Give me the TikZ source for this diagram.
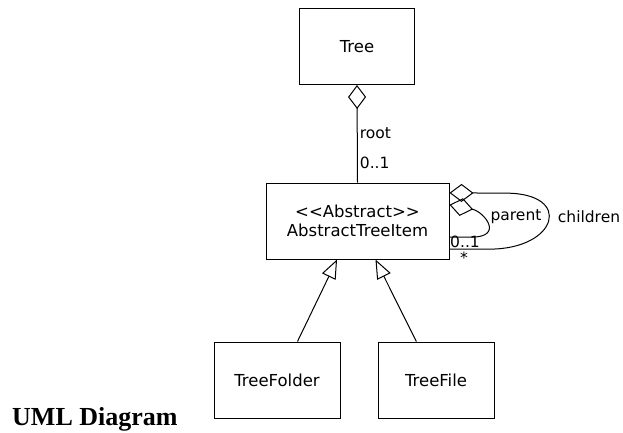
\documentclass[tikz,border=0pt]{standalone}
\usepackage{fontspec}
\usepackage{tikz}
\usetikzlibrary{arrows.meta}
\newfontfamily\umlfont{DejaVu Sans}
\newfontfamily\capfont{Liberation Serif}
\tikzset{
  cls/.style  = {draw, line width=1pt, minimum height=76pt, inner sep=0pt,
                 align=center, font=\umlfont\fontsize{16.5}{19}\selectfont},
  aggr/.style = {-{Diamond[open,length=24pt,width=18pt]}, line width=1pt},
  gen/.style  = {-{Triangle[open,length=19pt,width=15pt]}, line width=1pt},
  lbl/.style  = {inner sep=1pt, font=\umlfont\fontsize{15.5}{18}\selectfont},
}
\begin{document}
\begin{tikzpicture}[x=1pt,y=1pt]
  \useasboundingbox (0,0) rectangle (623,432);
  \node[cls, minimum width=115pt] (tree)   at (357,385.5) {Tree};
  \node[cls, minimum width=183pt] (item)   at (357.5,211)
       {{<}{<}Abstract{>}{>}\\AbstractTreeItem};
  \node[cls, minimum width=126pt] (folder) at (277,52)  {TreeFolder};
  \node[cls, minimum width=116pt] (file)   at (436,52)  {TreeFile};
  % aggregation to the tree
  \draw[aggr] (item.north) -- node[lbl,pos=0.2,anchor=west,xshift=1pt] (rootmul) {0..1}
      node[lbl,pos=0.51,anchor=west,xshift=1pt] (rootlbl) {root} (tree.south);
  % self associations
  \draw[aggr] (item.-17) -- ++(40,0) to[out=0,in=0,looseness=3] ++(16,56) -- (item.17);
  \draw[aggr] (item.-10) -- ++(21,0) to[out=0,in=-11,looseness=2.3] (item.10);
  \node[lbl] (parmul)   at (465,190) {0..1};
  \node[lbl] (chimul)   at (464,174) {*};
  \node[lbl] (parlbl)   at (516,215) {parent};
  \node[lbl] (chilbl)   at (589,215) {children};
  % generalisations
  \draw[gen] (folder.62) -- (item.-118);
  \draw[gen] (file.117)  -- (item.-65);
  \node[anchor=base west, inner sep=0pt, font=\capfont\bfseries\fontsize{26}{30}\selectfont]
       (caption) at (12,7) {UML Diagram};
\end{tikzpicture}
\end{document}
